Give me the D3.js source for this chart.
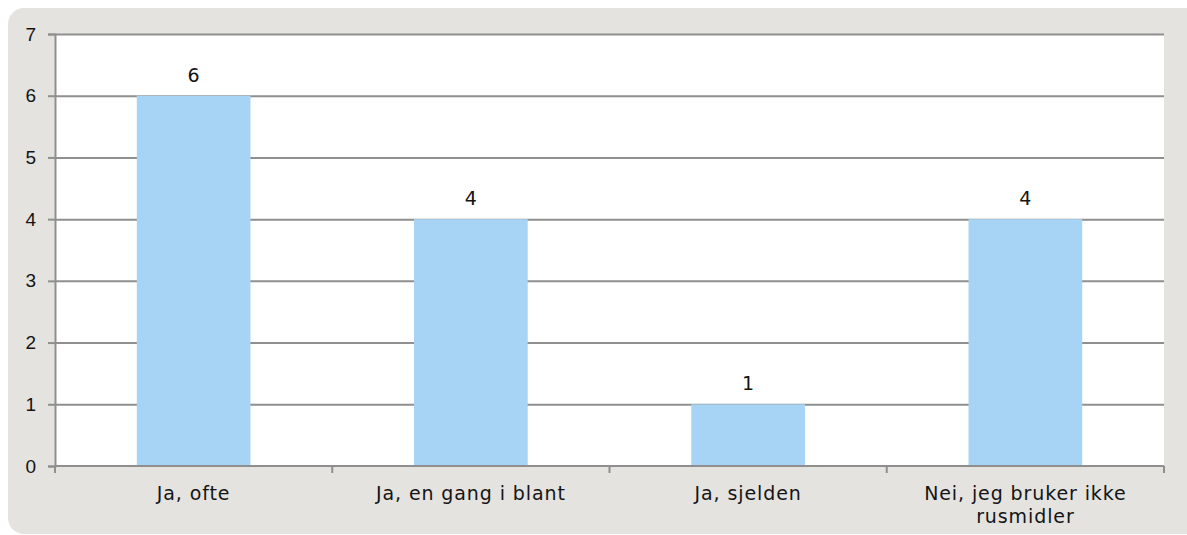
<!DOCTYPE html>
<html>
<head>
<meta charset="utf-8">
<script src="https://cdn.jsdelivr.net/npm/d3@7"></script>
<style>
  html, body { margin: 0; padding: 0; background: #ffffff; }
  svg { display: block; font-family: "DejaVu Sans", Verdana, sans-serif; }
</style>
</head>
<body>
<svg id="chart"></svg>
<script>
const width = 1187;
const height = 535;
const margin = { top: 34, right: 23, bottom: 69, left: 55 };
const innerWidth = width - margin.left - margin.right;
const innerHeight = height - margin.top - margin.bottom;

const categories = ["Ja, ofte", "Ja, en gang i blant", "Ja, sjelden", "Nei, jeg bruker ikke rusmidler"];
const values = [6, 4, 1, 4];
const yTicks = [0, 1, 2, 3, 4, 5, 6, 7];

const gridColor = "#8f8f8f";
const barColor = "#a7d3f4";
const textColor = "#141414";

const svg = d3.select("#chart").attr("width", width).attr("height", height);

// panel background
svg.append("rect")
  .attr("x", 8).attr("y", 8)
  .attr("width", width + 10).attr("height", height - 9)
  .attr("rx", 16).attr("ry", 16)
  .attr("fill", "#e4e3e0");

const root = svg.append("g").attr("transform", `translate(${margin.left},${margin.top})`);

const x = d3.scaleBand().domain(categories).range([0, innerWidth]).paddingInner(0.59).paddingOuter(0.295);
const y = d3.scaleLinear().domain([0, 7]).range([innerHeight, 0]);

root.append("rect")
  .attr("width", innerWidth).attr("height", innerHeight)
  .attr("fill", "#ffffff");

// horizontal grid
root.append("g")
  .call(d3.axisLeft(y).tickValues(yTicks.slice(1)).tickSize(-innerWidth).tickFormat(""))
  .call((g) => g.selectAll("line").attr("stroke", gridColor).attr("stroke-width", 2))
  .call((g) => g.select(".domain").remove());

// bars
root.append("g")
  .selectAll("rect")
  .data(values)
  .join("rect")
  .attr("x", (d, i) => x(categories[i]))
  .attr("y", (d) => y(d))
  .attr("width", x.bandwidth())
  .attr("height", (d) => innerHeight - y(d))
  .attr("fill", barColor);

// value labels
root.append("g")
  .selectAll("text")
  .data(values)
  .join("text")
  .attr("x", (d, i) => x(categories[i]) + x.bandwidth() / 2)
  .attr("y", (d) => y(d) - 14)
  .attr("text-anchor", "middle")
  .attr("fill", textColor)
  .style("font-size", "19px")
  .text((d) => d);

// y axis
root.append("g")
  .call(d3.axisLeft(y).tickValues(yTicks).tickSize(7).tickPadding(12).tickFormat(d3.format("d")))
  .call((g) => g.selectAll("line,path").attr("stroke", gridColor).attr("stroke-width", 2))
  .call((g) => g.selectAll("text").attr("fill", textColor).style("font-size", "19px").attr("font-family", null));

// x axis: ticks on category boundaries
const bounds = d3.range(categories.length + 1).map((i) => (innerWidth / categories.length) * i);
const xAxisG = root.append("g").attr("transform", `translate(0,${innerHeight})`);
xAxisG.append("line")
  .attr("x1", 0).attr("x2", innerWidth)
  .attr("stroke", gridColor).attr("stroke-width", 2);
xAxisG.selectAll("line.tick")
  .data(bounds)
  .join("line")
  .attr("class", "tick")
  .attr("x1", (d) => d).attr("x2", (d) => d)
  .attr("y1", 0).attr("y2", 7)
  .attr("stroke", gridColor).attr("stroke-width", 2);

const labels = xAxisG.selectAll("text.cat")
  .data(categories)
  .join("text")
  .attr("class", "cat")
  .attr("x", (d) => x(d) + x.bandwidth() / 2)
  .attr("y", 34)
  .attr("text-anchor", "middle")
  .attr("fill", textColor)
  .style("font-size", "19px")
  .style("letter-spacing", "0.9px");

labels.each(function (d) {
  const el = d3.select(this);
  const words = d.split(" ");
  let line = [];
  let tspan = el.append("tspan").attr("x", el.attr("x")).attr("dy", 0);
  words.forEach((w) => {
    line.push(w);
    tspan.text(line.join(" "));
    if (tspan.node().getComputedTextLength() > 230 && line.length > 1) {
      line.pop();
      tspan.text(line.join(" "));
      line = [w];
      tspan = el.append("tspan").attr("x", el.attr("x")).attr("dy", 23).text(w);
    }
  });
});
</script>
</body>
</html>
